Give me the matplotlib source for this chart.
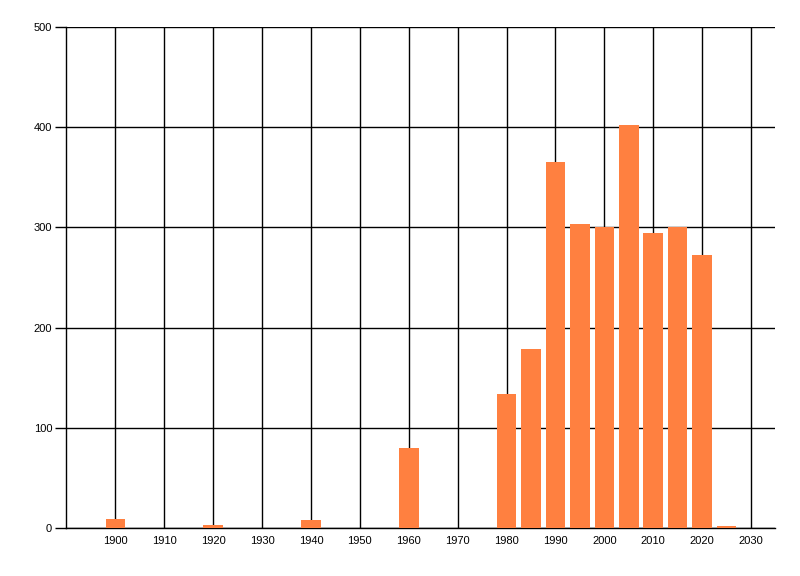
import matplotlib
matplotlib.use("Agg")
import matplotlib.pyplot as plt

years = [1900, 1920, 1940, 1960, 1980, 1985, 1990, 1995, 2000, 2005, 2010, 2015, 2020, 2025]
values = [9, 3, 8, 80, 134, 179, 365, 303, 300, 402, 294, 300, 272, 2]
xticks = list(range(1900, 2031, 10))
yticks = [0, 100, 200, 300, 400, 500]

fig = plt.figure(figsize=(8, 5.76), dpi=100)
ax = fig.add_axes([66/800, 48/576, (775-66)/800, (528-27)/576])
ax.bar(years, values, width=4, color='#FF8040', zorder=3)
ax.set_xlim(1889.9, 2034.9)
ax.set_ylim(0, 500)
ax.set_xticks(xticks)
ax.set_yticks(yticks)
ax.grid(True, color='black', linewidth=1, zorder=0)
ax.set_axisbelow(True)
for s in ['top', 'right']:
    ax.spines[s].set_visible(False)
for s in ['left', 'bottom']:
    ax.spines[s].set_linewidth(1)
    ax.spines[s].set_zorder(2)
ax.tick_params(axis='x', length=0, pad=6, labelsize=8)
ax.tick_params(axis='y', length=8, width=1, pad=2, labelsize=8)
for lab in ax.get_xticklabels() + ax.get_yticklabels():
    lab.set_family('Liberation Sans')
fig.savefig('out.png', dpi=100)
